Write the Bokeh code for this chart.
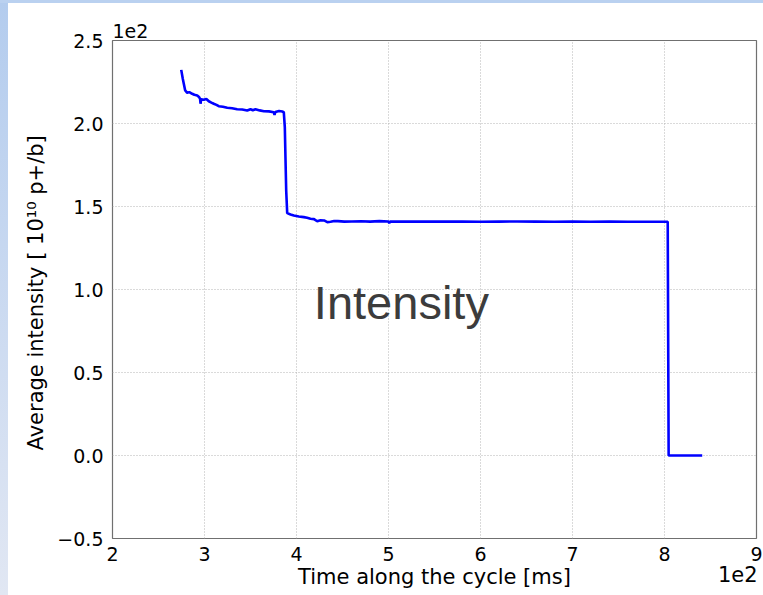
from bokeh.plotting import figure
from bokeh.models import (ColumnDataSource, FixedTicker, CustomJSTickFormatter,
                          LinearAxis, Title, Range1d)
from bokeh.core.properties import value
from bokeh.embed import file_html
from bokeh.resources import INLINE

# Beam intensity along the cycle (time in ms, intensity in 1e10 p+/b)
time_ms = [274.7, 276.4, 277.5, 279.0, 281.2, 283.5, 286.6, 289.0, 292.1, 294.0,
           295.2, 295.7, 296.3, 299.2, 302.0, 304.7, 307.5, 310.1, 313.0, 315.5,
           320.0, 324.7, 330.0, 335.5, 341.0, 346.4, 350.0, 352.5, 355.4, 360.0,
           364.5, 370.0, 375.3, 376.1, 377.0, 381.0, 384.5, 386.2, 387.3, 388.0,
           388.8, 389.9, 393.5, 397.1, 402.5, 407.9, 411.5, 415.2, 419.0, 422.5,
           426.0, 430.0, 433.5, 437.0, 441.0, 445.0, 452.0, 460.0, 470.0, 480.0,
           490.0, 500.0, 500.8, 501.6, 520.0, 540.0, 560.0, 580.0, 600.0, 620.0,
           640.0, 660.0, 680.0, 700.0, 720.0, 740.0, 760.0, 780.0, 800.0, 803.5,
           804.5, 841.0]
intensity = [232.3, 226.9, 223.9, 219.9, 218.5, 218.9, 217.9, 217.3, 216.9, 216.0,
             214.8, 211.9, 214.6, 214.3, 214.8, 213.4, 212.6, 211.9, 211.2, 210.4,
             210.1, 209.5, 209.2, 208.6, 208.4, 207.8, 208.6, 208.0, 208.6, 207.9,
             207.4, 207.3, 206.8, 205.2, 206.9, 207.5, 207.2, 206.8, 197.8, 179.7,
             159.6, 146.0, 145.2, 144.6, 144.0, 143.6, 143.2, 142.6, 142.4, 141.1,
             141.7, 141.6, 140.6, 140.8, 141.3, 141.2, 140.9, 141.0, 141.1, 140.9,
             141.2, 141.0, 140.0, 141.0, 140.9, 141.0, 140.9, 141.0, 140.8, 140.9,
             141.0, 140.9, 140.8, 140.9, 140.8, 140.9, 140.8, 140.8, 140.8, 140.8,
             0.0, 0.0]

x_ticks = [200, 300, 400, 500, 600, 700, 800, 900]
y_ticks = [-50, 0, 50, 100, 150, 200, 250]
x_offset_pos = [879.6]   # where the x scale-offset text sits

FONT = "DejaVu Sans"

p = figure(frame_width=644, frame_height=498,
           min_border_left=112, min_border_right=7,
           min_border_top=40, min_border_bottom=57,
           x_range=Range1d(200, 900), y_range=Range1d(-50, 250),
           output_backend="svg", toolbar_location=None)

p.background_fill_color = "white"
p.border_fill_alpha = 0
# slide decoration around the chart: blue line on top, fading strip on the left
p.styles = {
    "background": ("linear-gradient(#bad1f0, #bad1f0) 0 0 / 100% 3px no-repeat, "
                   "linear-gradient(to bottom, #b3ccee, #e1e7f3) 0 0 / 8px 100% no-repeat, "
                   "#ffffff"),
}
p.outline_line_color = "#707070"
p.outline_line_width = 1.2

src = ColumnDataSource(dict(t=time_ms, v=intensity))
p.line("t", "v", source=src, line_color="#0000ff", line_width=2.6)

p.text(x=[514], y=[92], text=["Intensity"], text_font=value("Liberation Sans"),
       text_font_size="47px", text_color="#3c3c3c",
       text_align="center", text_baseline="middle")


def style_axis(ax, tick_size):
    ax.axis_line_color = None
    ax.major_tick_line_color = None
    ax.minor_tick_line_color = None
    ax.major_tick_out = 0
    ax.major_tick_in = 0
    ax.major_label_text_font = FONT
    ax.major_label_text_font_size = tick_size
    ax.major_label_text_color = "black"
    ax.axis_label_text_font = FONT
    ax.axis_label_text_font_size = "21px"
    ax.axis_label_text_font_style = "normal"
    ax.axis_label_text_color = "black"


style_axis(p.xaxis[0], "19px")
style_axis(p.yaxis[0], "19px")

p.xaxis.ticker = FixedTicker(ticks=x_ticks)
p.yaxis.ticker = FixedTicker(ticks=y_ticks)
p.xaxis.formatter = CustomJSTickFormatter(code="return (tick/100).toFixed(0);")
p.yaxis.formatter = CustomJSTickFormatter(
    code="return (tick/100).toFixed(1).replace('-', '\u2212');")
p.xaxis.major_label_standoff = 8
p.xaxis.axis_label = "Time along the cycle [ms]"
p.xaxis.axis_label_standoff = 1
p.yaxis.major_label_standoff = 9
p.yaxis.axis_label = "Average intensity [ 10\u00b9\u2070  p+/b]"
p.yaxis.axis_label_standoff = 6

# second bottom axis, pulled up onto the title row: carries the "1e2" offset
x_offset_axis = LinearAxis(ticker=FixedTicker(ticks=x_offset_pos),
                           formatter=CustomJSTickFormatter(code="return '1e2';"))
style_axis(x_offset_axis, "21px")
x_offset_axis.major_label_standoff = -26
p.add_layout(x_offset_axis, "below")

# y scale offset above the frame
p.add_layout(Title(text="1e2", align="left", text_font=FONT, text_font_size="19px",
                   text_font_style="normal", text_color="black", standoff=6), "above")

p.xgrid.ticker = FixedTicker(ticks=x_ticks)
p.ygrid.ticker = FixedTicker(ticks=y_ticks)
for g in (p.xgrid[0], p.ygrid[0]):
    g.grid_line_color = "#b4b4b4"
    g.grid_line_dash = "1 2"
    g.grid_line_width = 1

open("out.html", "w").write(file_html(p, INLINE))
